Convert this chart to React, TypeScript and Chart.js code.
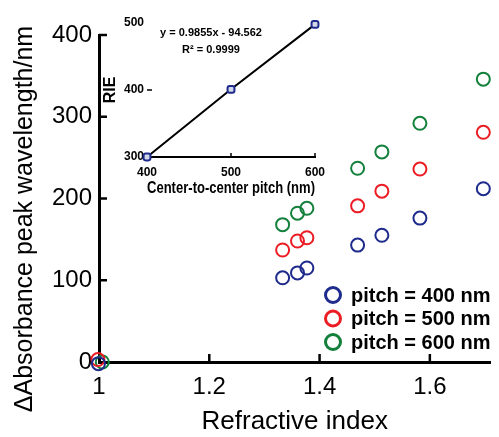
import React, { useEffect, useRef } from 'react';
import { Chart, registerables } from 'chart.js';

Chart.register(...registerables);

// ---- main chart data ----
const refractiveIndex400 = [0.999, 1.333, 1.36, 1.377, 1.469, 1.513, 1.582, 1.697];
const refractiveIndex500 = [0.998, 1.333, 1.36, 1.377, 1.469, 1.513, 1.582, 1.697];
const refractiveIndex600 = [1.006, 1.333, 1.36, 1.377, 1.469, 1.513, 1.582, 1.697];
const shift400 = [-2, 103, 109, 115, 143, 155, 176, 212];
const shift500 = [3, 137, 148, 152, 191, 209, 236, 281];
const shift600 = [0, 168, 182, 188, 237, 257, 292, 346];
const seriesLabels = ['pitch = 400 nm', 'pitch = 500 nm', 'pitch = 600 nm'];
const seriesColors = ['#1e2a8c', '#ec1c24', '#13803c'];
const xTicks = [1, 1.2, 1.4, 1.6];
const yTicks = [0, 100, 200, 300, 400];
const xTitle = 'Refractive index';
const yTitle = 'ΔAbsorbance peak wavelength/nm';

// ---- inset data ----
const insetPitch = [400, 500, 600];
const insetRIE = [300, 401, 498];
const insetXTicks = [400, 500, 600];
const insetYTicks = [300, 400, 500];
const insetXTitle = 'Center-to-center pitch (nm)';
const insetYTitle = 'RIE';
const fitEquation = 'y = 0.9855x - 94.562';
const fitR2 = 'R² = 0.9999';

const FONT = "'Liberation Sans', Arial, sans-serif";

const mainPlugin = {
  id: 'mainDecor',
  afterDraw(chart: any) {
    const { ctx, chartArea } = chart;
    const x = chart.scales.x;
    const y = chart.scales.y;
    ctx.save();
    ctx.strokeStyle = '#000';
    ctx.lineWidth = 2.5;
    xTicks.slice(1).forEach((v) => {
      const px = x.getPixelForValue(v);
      ctx.beginPath();
      ctx.moveTo(px, chartArea.bottom);
      ctx.lineTo(px, chartArea.bottom - 8);
      ctx.stroke();
    });
    yTicks.slice(1).forEach((v) => {
      const py = y.getPixelForValue(v);
      ctx.beginPath();
      ctx.moveTo(chartArea.left, py);
      ctx.lineTo(chartArea.left + 8, py);
      ctx.stroke();
    });
    // y-axis title
    ctx.save();
    ctx.translate(25, 219);
    ctx.rotate(-Math.PI / 2);
    ctx.fillStyle = '#000';
    ctx.font = `25px ${FONT}`;
    ctx.textAlign = 'center';
    ctx.textBaseline = 'middle';
    ctx.fillText(yTitle, 0, 0);
    ctx.restore();
    // legend
    const lx = 333;
    const ly0 = 295;
    const dy = 23.5;
    chart.data.datasets.forEach((ds: any, i: number) => {
      const cy = ly0 + i * dy;
      ctx.beginPath();
      ctx.lineWidth = 3;
      ctx.strokeStyle = ds.borderColor;
      ctx.arc(lx, cy, 7.5, 0, Math.PI * 2);
      ctx.stroke();
      ctx.fillStyle = '#000';
      ctx.font = `bold 20px ${FONT}`;
      ctx.textAlign = 'left';
      ctx.textBaseline = 'middle';
      ctx.fillText(ds.label, lx + 18, cy + 1);
    });
    ctx.restore();
  },
};

const insetPlugin = {
  id: 'insetDecor',
  afterDraw(chart: any) {
    const { ctx, chartArea } = chart;
    const x = chart.scales.x;
    const y = chart.scales.y;
    ctx.save();
    ctx.strokeStyle = '#000';
    ctx.lineWidth = 1.5;
    insetXTicks.slice(1).forEach((v) => {
      const px = x.getPixelForValue(v);
      ctx.beginPath();
      ctx.moveTo(px, chartArea.bottom);
      ctx.lineTo(px, chartArea.bottom - 4);
      ctx.stroke();
    });
    insetYTicks.slice(1, -1).forEach((v) => {
      const py = y.getPixelForValue(v);
      ctx.beginPath();
      ctx.moveTo(chartArea.left, py);
      ctx.lineTo(chartArea.left + 5, py);
      ctx.stroke();
    });
    ctx.fillStyle = '#000';
    ctx.font = `bold 11px ${FONT}`;
    ctx.textAlign = 'center';
    ctx.textBaseline = 'middle';
    ctx.fillText(fitEquation, 211, 33);
    ctx.fillText(fitR2, 211, 50);
    ctx.restore();
  },
};

export default function App() {
  const mainRef = useRef<HTMLCanvasElement>(null);
  const insetRef = useRef<HTMLCanvasElement>(null);

  useEffect(() => {
    const series = [shift400, shift500, shift600];
    const xs = [refractiveIndex400, refractiveIndex500, refractiveIndex600];
    const main = new Chart(mainRef.current as HTMLCanvasElement, {
      type: 'scatter',
      data: {
        datasets: series.map((vals, i) => ({
          label: seriesLabels[i],
          data: xs[i].map((n, j) => ({ x: n, y: vals[j] })),
          borderColor: seriesColors[i],
          backgroundColor: 'rgba(0,0,0,0)',
          pointRadius: 6.5,
          pointHoverRadius: 6.5,
          borderWidth: 2,
          pointStyle: 'circle',
          showLine: false,
          clip: false as any,
        })),
      },
      options: {
        responsive: false,
        animation: false,
        events: [],
        layout: { padding: { top: 35, right: 0, bottom: 0, left: 0 } },
        plugins: { legend: { display: false }, tooltip: { enabled: false } },
        scales: {
          x: {
            type: 'linear',
            min: 1,
            max: 1.71,
            afterBuildTicks: (s: any) => {
              s.ticks = xTicks.map((v) => ({ value: v }));
            },
            afterFit: (s: any) => {
              s.height = 75;
            },
            grid: { display: false, drawTicks: false },
            border: { display: true, color: '#000', width: 3 },
            ticks: {
              color: '#000',
              padding: 11,
              font: { family: FONT, size: 24 },
              callback: (v: any) => String(v),
              maxRotation: 0,
            },
            title: {
              display: true,
              text: xTitle,
              color: '#000',
              font: { family: FONT, size: 26 },
              padding: { top: 0, bottom: 0 },
            },
          },
          y: {
            type: 'linear',
            min: 0,
            max: 400,
            afterBuildTicks: (s: any) => {
              s.ticks = yTicks.map((v) => ({ value: v }));
            },
            afterFit: (s: any) => {
              s.width = 99;
            },
            grid: { display: false, drawTicks: false },
            border: { display: true, color: '#000', width: 3 },
            ticks: {
              color: '#000',
              padding: 7,
              font: { family: FONT, size: 24 },
              callback: (v: any) => String(v),
            },
            title: { display: false },
          },
        },
      },
      plugins: [mainPlugin],
    } as any);

    const inset = new Chart(insetRef.current as HTMLCanvasElement, {
      type: 'scatter',
      data: {
        datasets: [
          {
            label: 'RIE',
            data: insetPitch.map((p, j) => ({ x: p, y: insetRIE[j] })),
            borderColor: '#000',
            borderWidth: 2,
            showLine: true,
            pointStyle: 'rectRounded',
            pointRadius: 4,
            pointHoverRadius: 4,
            pointBorderWidth: 2,
            pointBorderColor: '#1e2a8c',
            pointBackgroundColor: '#d3d8e6',
            clip: false as any,
          },
        ],
      },
      options: {
        responsive: false,
        animation: false,
        events: [],
        layout: { padding: { top: 23, right: 184, bottom: 235, left: 90 } },
        plugins: { legend: { display: false }, tooltip: { enabled: false } },
        scales: {
          x: {
            type: 'linear',
            min: 400,
            max: 600,
            afterBuildTicks: (s: any) => {
              s.ticks = insetXTicks.map((v) => ({ value: v }));
            },
            afterFit: (s: any) => {
              s.height = 45;
            },
            grid: { display: false, drawTicks: false },
            border: { display: true, color: '#000', width: 2 },
            ticks: {
              color: '#000',
              padding: 8,
              font: { family: FONT, size: 12, weight: 'bold' },
              callback: (v: any) => String(v),
              maxRotation: 0,
            },
            title: {
              display: true,
              text: insetXTitle,
              color: '#000',
              font: { family: FONT, size: 16, weight: 'bold' },
              padding: { top: 0, bottom: 4 },
            },
          },
          y: {
            type: 'linear',
            min: 300,
            max: 500,
            afterBuildTicks: (s: any) => {
              s.ticks = insetYTicks.map((v) => ({ value: v }));
            },
            afterFit: (s: any) => {
              s.width = 57;
            },
            grid: { display: false, drawTicks: false },
            border: { display: false },
            ticks: {
              color: '#000',
              padding: 3,
              font: { family: FONT, size: 12, weight: 'bold' },
              callback: (v: any) => String(v),
            },
            title: {
              display: true,
              text: insetYTitle,
              color: '#000',
              font: { family: FONT, size: 16, weight: 'bold' },
              padding: { top: 11, bottom: 0 },
            },
          },
        },
      },
      plugins: [insetPlugin],
    } as any);

    return () => {
      main.destroy();
      inset.destroy();
    };
  }, []);

  return (
    <div style={{ position: 'absolute', left: 0, top: 0, width: 499, height: 437, background: '#fff' }}>
      <canvas ref={mainRef} width={499} height={437} style={{ position: 'absolute', left: 0, top: 0 }} />
      <canvas ref={insetRef} width={499} height={437} style={{ position: 'absolute', left: 0, top: 0 }} />
    </div>
  );
}
